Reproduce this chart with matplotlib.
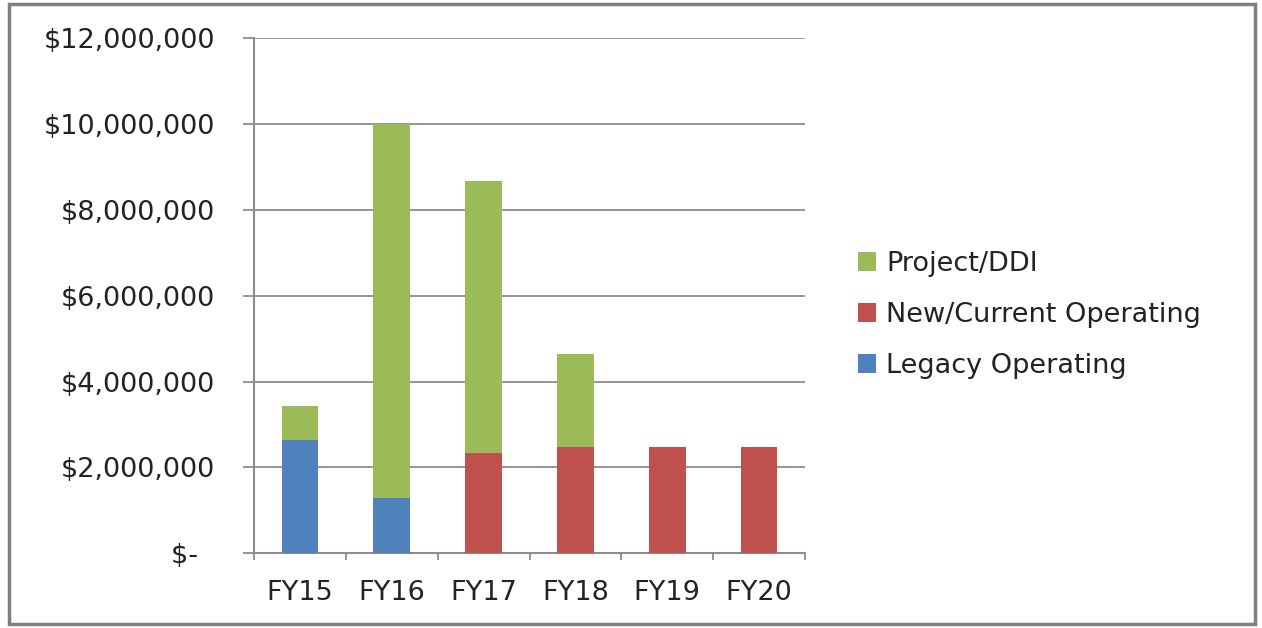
import matplotlib
matplotlib.use("Agg")
import matplotlib.pyplot as plt
from matplotlib.patches import Patch, Rectangle
from matplotlib.ticker import FuncFormatter, FixedLocator
import numpy as np

categories = ["FY15", "FY16", "FY17", "FY18", "FY19", "FY20"]
legacy = [2630000, 1290000, 0, 0, 0, 0]
new_current = [0, 0, 2340000, 2470000, 2470000, 2470000]
project_ddi = [800000, 8710000, 6330000, 2160000, 0, 0]

c_legacy = "#4F81BD"
c_new = "#C0504D"
c_proj = "#9BBB59"
grid_c = "#8C8C8C"

W, H = 1262, 628
fig = plt.figure(figsize=(W / 100, H / 100), dpi=100)
fig.patch.set_facecolor("white")
plt.rcParams["font.family"] = ["DejaVu Sans"]

ax = fig.add_axes([254 / W, (H - 553.3) / H, (805 - 254) / W, (553.3 - 38) / H])
x = np.arange(len(categories))
bw = 0.4
leg = np.array(legacy)
new = np.array(new_current)
proj = np.array(project_ddi)
ax.bar(x, leg, bw, color=c_legacy, zorder=3)
ax.bar(x, new, bw, bottom=leg, color=c_new, zorder=3)
ax.bar(x, proj, bw, bottom=leg + new, color=c_proj, zorder=3)

ax.set_xlim(-0.5, 5.5)
ax.set_ylim(0, 12000000)
ax.set_yticks(np.arange(0, 12000001, 2000000))

def fmt(v, pos):
    if v == 0:
        return "$-  "
    return "${:,.0f}".format(v)

ax.yaxis.set_major_formatter(FuncFormatter(fmt))
ax.grid(axis="y", color=grid_c, linewidth=1.3, zorder=0)
for s in ["top", "right"]:
    ax.spines[s].set_visible(False)
for s in ["left", "bottom"]:
    ax.spines[s].set_color(grid_c)
    ax.spines[s].set_linewidth(1.5)

ax.set_xticks(x)
ax.set_xticklabels(categories)
ax.xaxis.set_minor_locator(FixedLocator(np.arange(-0.5, 5.6, 1.0)))
ax.tick_params(axis="x", which="major", length=0, pad=19, labelsize=19.5, colors="#222222")
ax.tick_params(axis="x", which="minor", length=5, width=1.3, color=grid_c, direction="out")
ax.tick_params(axis="y", which="major", length=8, width=1.3, color=grid_c, pad=20, labelsize=19.5, labelcolor="#222222")

handles = [Patch(facecolor=c_proj), Patch(facecolor=c_new), Patch(facecolor=c_legacy)]
labels = ["Project/DDI", "New/Current Operating", "Legacy Operating"]
fig.legend(handles, labels, loc="center left", bbox_to_anchor=(858 / W, (H - 315) / H),
           frameon=False, fontsize=19.5, handlelength=0.68, handleheight=0.68,
           handletextpad=0.35, labelspacing=0.93, borderpad=0, borderaxespad=0,
           labelcolor="#222222")

fig.add_artist(Rectangle((8.5 / W, 4 / H), (1255 - 8.5) / W, (624 - 4) / H,
                         transform=fig.transFigure, fill=False, edgecolor="#7F7F7F",
                         linewidth=2.5))

fig.savefig("out.png", dpi=100, facecolor="white")
